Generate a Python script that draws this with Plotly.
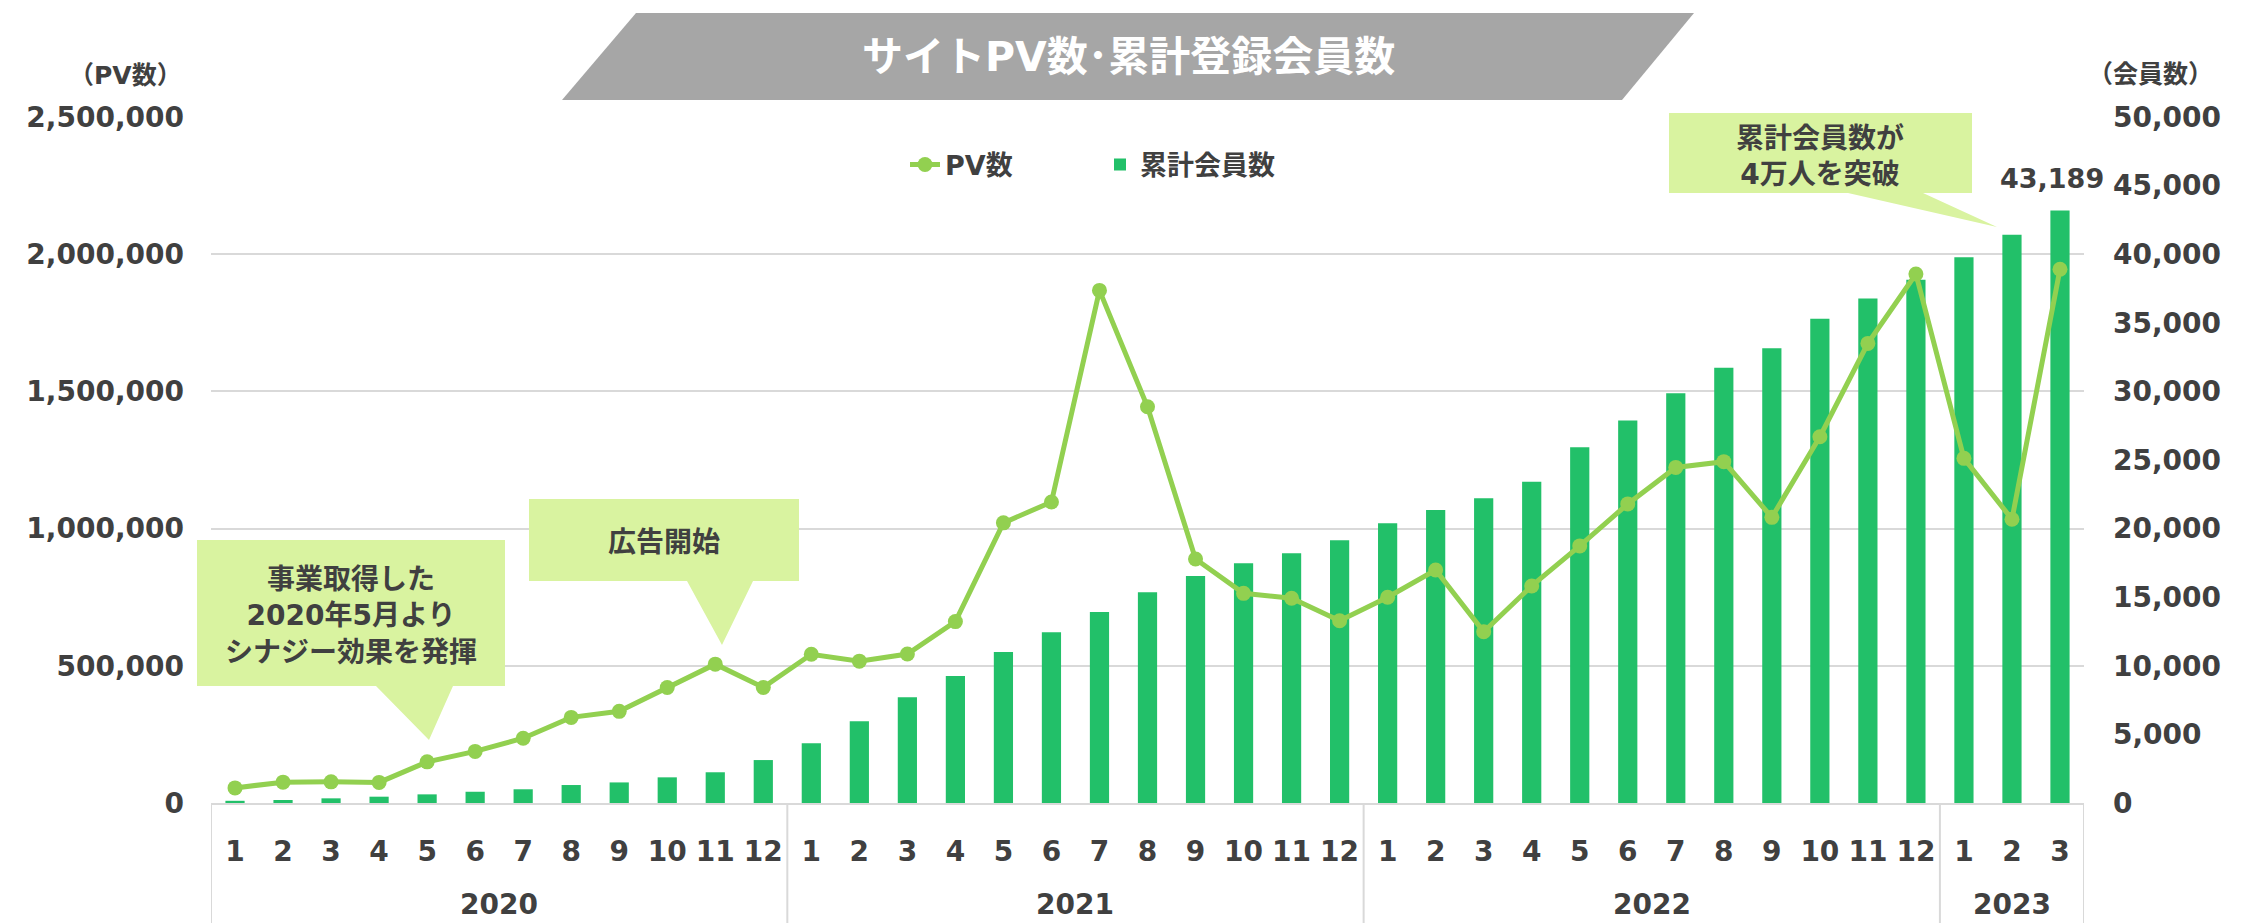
import plotly.graph_objects as go

# months Jan 2020 - Mar 2023
years = ["2020"] * 12 + ["2021"] * 12 + ["2022"] * 12 + ["2023"] * 3
months = [str(m) for m in range(1, 13)] * 3 + ["1", "2", "3"]
periods = [f"{y}-{m}" for y, m in zip(years, months)]

pv = [55000, 76000, 77000, 75000, 150000, 188000, 236000, 312000, 334000, 421000, 506000, 421000,
      542000, 517000, 543000, 661000, 1021000, 1097000, 1868000, 1444000, 889000, 764000, 746000, 664000,
      750000, 849000, 624000, 791000, 937000, 1090000, 1223000, 1244000, 1041000, 1335000, 1675000, 1928000,
      1256000, 1034000, 1945000]

members = [160, 220, 340, 460, 630, 820, 1000, 1310, 1500, 1870, 2240, 3130,
           4350, 5950, 7710, 9260, 11000, 12440, 13920, 15360, 16550, 17470, 18200, 19150,
           20390, 21360, 22210, 23420, 25930, 27870, 29870, 31730, 33150, 35300, 36770, 38130,
           39780, 41420, 43189]

FONT = "DejaVu Sans, Noto Sans CJK JP"
DARK = "#404040"
CALLOUT = "#d9f3a0"
GRID = "#d9d9d9"

# page is drawn with an 8px body margin, so the figure is 8px smaller
PAGE_OFF = 8
W, H = 2241 - PAGE_OFF, 923 - PAGE_OFF
# plot area in page pixels
L, R, T, B = 211, 2084, 117, 803


def px(x):
    return (x - L) / (R - L)


def py(y):
    return (B - y) / (B - T)


def path(points):
    return "M " + " L ".join(f"{px(x):.5f},{py(y):.5f}" for x, y in points) + " Z"


fig = go.Figure()

# bars first on the primary axis (right side) so the line sits on top
fig.add_trace(go.Bar(
    x=periods, y=members, name="累計会員数",
    marker=dict(color="#22c069", line_width=0), width=0.4,
    yaxis="y",
))
fig.add_trace(go.Scatter(
    x=periods, y=pv, name="PV数", mode="lines+markers",
    line=dict(color="#92d050", width=5), marker=dict(size=15, color="#92d050"),
    yaxis="y2",
))

shapes = [
    # title banner
    dict(type="path", xref="paper", yref="paper", layer="above", line_width=0, fillcolor="#a6a6a6",
         path=path([(562, 100), (636, 13), (1694, 13), (1622, 100)])),
    # callouts
    dict(type="path", xref="paper", yref="paper", layer="above", line_width=0, fillcolor=CALLOUT,
         path=path([(197, 540), (505, 540), (505, 686), (453, 686), (429, 740), (376, 686), (197, 686)])),
    dict(type="path", xref="paper", yref="paper", layer="above", line_width=0, fillcolor=CALLOUT,
         path=path([(529, 499), (799, 499), (799, 581), (753, 581), (722, 645), (687, 581), (529, 581)])),
    dict(type="path", xref="paper", yref="paper", layer="above", line_width=0, fillcolor=CALLOUT,
         path=path([(1669, 113), (1972, 113), (1972, 193), (1923, 193), (1997, 227), (1848, 193), (1669, 193)])),
]


def note(text, x, y, size=28, color=DARK, xref="paper"):
    return dict(text=text, xref=xref, yref="paper", x=x if xref == "x" else px(x), y=py(y),
                showarrow=False, xanchor="center", yanchor="middle", align="center",
                font=dict(size=size, color=color, family=FONT, weight="bold"))


annotations = [
    note("サイトPV数･累計登録会員数", 1128, 57, size=41, color="white"),
    note("（PV数）", 125, 76, size=25),
    note("（会員数）", 2150, 75, size=25),
    note("事業取得した<br>2020年5月より<br>シナジー効果を発揮", 351, 616),
    note("広告開始", 664, 542),
    note("累計会員数が<br>4万人を突破", 1820, 156),
    # latest member count above the last bar
    dict(text=f"{members[-1]:,}", xref="x", yref="y", x=periods[-1], y=members[-1],
         xanchor="center", yanchor="bottom", xshift=-8, yshift=14, showarrow=False,
         font=dict(size=27, color=DARK, family=FONT, weight="bold")),
]

# year labels under the month ticks, with dividers between years
year_names = list(dict.fromkeys(years))
edges = [-0.5]
for yr in year_names:
    idx = [i for i, v in enumerate(years) if v == yr]
    annotations.append(note(yr, (idx[0] + idx[-1]) / 2, 905, xref="x"))
    edges.append(idx[-1] + 0.5)
for e in edges:
    shapes.append(dict(type="line", xref="x", yref="paper", x0=e, x1=e, y0=0, y1=py(923),
                       line=dict(color=GRID, width=2), layer="below"))

tickfont = dict(size=28, color=DARK, family=FONT, weight="bold")

fig.update_layout(
    width=W, height=H,
    margin=dict(l=L - PAGE_OFF, r=W - (R - PAGE_OFF), t=T - PAGE_OFF, b=H - (B - PAGE_OFF)),
    paper_bgcolor="white", plot_bgcolor="white",
    font=dict(family=FONT, color=DARK),
    shapes=shapes, annotations=annotations,
    legend=dict(orientation="h", x=px(905), xanchor="left", y=py(165), yanchor="middle",
                font=dict(size=27, color=DARK, family=FONT, weight="bold"),
                traceorder="reversed", bgcolor="rgba(0,0,0,0)", entrywidth=150),
    xaxis=dict(type="category", range=[-0.5, len(months) - 0.5], tickmode="array",
               tickvals=periods, ticktext=months, tickangle=0, ticklabelstandoff=22,
               tickfont=tickfont, showline=True, linecolor=GRID, linewidth=2,
               showgrid=False, automargin=False),
    yaxis=dict(side="right", range=[0, 50000], dtick=5000, tickformat=",", showgrid=False,
               zeroline=False, tickfont=tickfont, ticklabelstandoff=28, automargin=False),
    yaxis2=dict(side="left", overlaying="y", range=[0, 2500000], dtick=500000, tickformat=",",
                showgrid=True, gridcolor=GRID, gridwidth=2, zeroline=False,
                tickfont=tickfont, ticklabelstandoff=26, automargin=False),
)

fig.write_html("out.html")
